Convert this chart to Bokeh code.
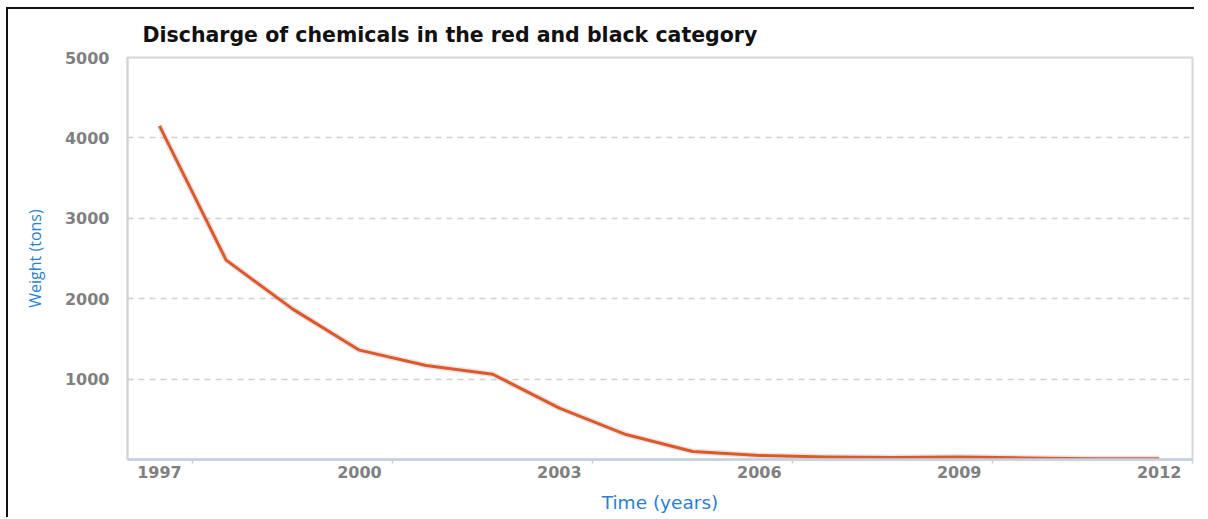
from bokeh.plotting import figure
from bokeh.models import FixedTicker, Range1d
from bokeh.embed import file_html
from bokeh.resources import INLINE

# Yearly discharge of red/black category chemicals, in tons
years = [1997, 1998, 1999, 2000, 2001, 2002, 2003, 2004, 2005, 2006,
         2007, 2008, 2009, 2010, 2011, 2012]
weight_tons = [4150, 2480, 1870, 1360, 1170, 1060, 640, 310, 100, 50,
               30, 25, 30, 20, 10, 8]

x_tick_years = [1997, 2000, 2003, 2006, 2009, 2012]
y_tick_values = [1000, 2000, 3000, 4000, 5000]

p = figure(
    width=1188, height=510,
    output_backend="svg", toolbar_location=None,
    x_range=Range1d(1996.52, 2012.5), y_range=Range1d(0, 5000),
    min_border_left=119, min_border_right=4,
    min_border_top=0, min_border_bottom=60,
    background_fill_color="white", border_fill_color="white",
)
# black frame line on the left and top edges of the chart box
p.styles = {
    "margin-left": "8px", "margin-top": "9px",
    "box-shadow": "-2px -2px 0 0 #111",
}

p.title.text = "Discharge of chemicals in the red and black category"
p.title.align = "left"
p.title.offset = 15
p.title.text_font = "DejaVu Sans"
p.title.text_font_style = "bold"
p.title.text_font_size = "20.5px"
p.title.text_color = "#111111"
p.title.standoff = 22

# plot frame
p.outline_line_color = "#d6d6d6"
p.outline_line_width = 2

# grid
p.xgrid.grid_line_color = None
p.ygrid.ticker = FixedTicker(ticks=y_tick_values)
p.ygrid.grid_line_color = "#d0d0d0"
p.ygrid.grid_line_dash = "6 5"
p.ygrid.grid_line_width = 1.5

# x axis: labels on the years, small ticks between them
xa = p.xaxis[0]
xa.ticker = FixedTicker(ticks=x_tick_years,
                        minor_ticks=[y + 0.5 for y in x_tick_years])
xa.major_tick_line_color = None
xa.minor_tick_line_color = "#c4d0de"
xa.minor_tick_line_width = 1.5
xa.minor_tick_in = 0
xa.minor_tick_out = 4
xa.axis_line_color = "#c4d0de"
xa.axis_line_width = 2.5
xa.major_label_standoff = 0
xa.major_label_text_font = "DejaVu Sans"
xa.major_label_text_font_style = "bold"
xa.major_label_text_font_size = "16px"
xa.major_label_text_color = "#808080"
xa.axis_label = "Time (years)"
xa.axis_label_text_font = "DejaVu Sans"
xa.axis_label_text_font_style = "normal"
xa.axis_label_text_font_size = "18.5px"
xa.axis_label_text_color = "#2a7fd0"
xa.axis_label_standoff = 11

ya = p.yaxis[0]
ya.ticker = FixedTicker(ticks=y_tick_values)
ya.major_tick_line_color = None
ya.minor_tick_line_color = None
ya.axis_line_color = "#d6d6d6"
ya.axis_line_width = 2
ya.major_label_standoff = 12
ya.major_label_text_font = "DejaVu Sans"
ya.major_label_text_font_style = "bold"
ya.major_label_text_font_size = "16px"
ya.major_label_text_color = "#808080"
ya.axis_label = "Weight (tons)"
ya.axis_label_text_font = "Open Sans"
ya.axis_label_text_font_style = "normal"
ya.axis_label_text_font_size = "16px"
ya.axis_label_text_color = "#2a7fd0"
ya.axis_label_standoff = 16

# soft shadow under the series, then the series itself
p.line(years, weight_tons, line_color="#9a9a9a", line_alpha=0.25,
       line_width=6, line_join="round")
p.line(years, weight_tons, line_color="#e0582a", line_width=3,
       line_join="round")

open("out.html", "w").write(file_html(p, INLINE))
